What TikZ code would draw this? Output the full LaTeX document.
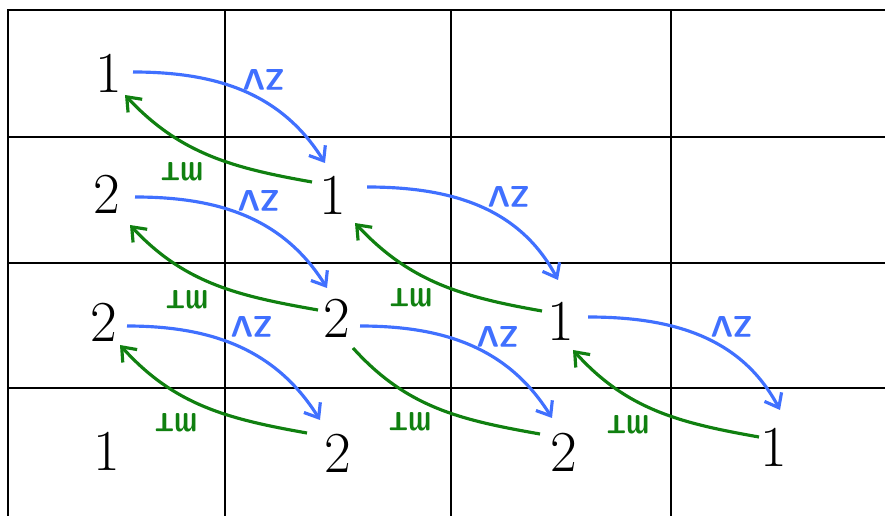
\documentclass[tikz,border=0pt]{standalone}
\definecolor{arcblue}{RGB}{64, 112, 255}
\definecolor{arcgreen}{RGB}{16, 128, 16}
\usepackage{graphicx}
\usepackage{tikz}
\usetikzlibrary{arrows.meta}

\begin{document}
\begin{tikzpicture}[x=0.02cm, y=0.02cm,
  num/.style={font=\fontsize{33}{33}\selectfont, inner sep=0pt},
  grid/.style={line width=1.3pt, black},
  zvarc/.style={draw=arcblue, line width=1.8pt, -{Straight Barb[length=7pt, width=11pt]}},
  mtarc/.style={draw=arcgreen, line width=1.8pt, -{Straight Barb[length=7pt, width=11pt]}},
  zvlab/.style={text=arcblue, font=\sffamily\bfseries\fontsize{17}{17}\selectfont, rotate=180, inner sep=0pt},
  mtlab/.style={text=arcgreen, font=\sffamily\bfseries\fontsize{15}{15}\selectfont, rotate=180, inner sep=0pt}
]
  \useasboundingbox (0, 0) rectangle (885, -516);

  % grid
  \foreach \y in {10, 137, 263, 388}
    \draw[grid] (7, -\y) -- (885, -\y);
  \foreach \x in {8, 225, 451, 671}
    \draw[grid] (\x, -10) -- (\x, -516);

  % numbers
  \node[num] (n00) at (109, -73) {1};
  \node[num] (n10) at (107, -194) {2};
  \node[num] (n11) at (333, -195) {1};
  \node[num] (n20) at (104, -322) {2};
  \node[num] (n21) at (337, -318) {2};
  \node[num] (n22) at (561, -321) {1};
  \node[num] (n30) at (107, -451) {1};
  \node[num] (n31) at (338, -453) {2};
  \node[num] (n32) at (564, -452) {2};
  \node[num] (n33) at (774, -447) {1};

  % blue arcs
  \draw[zvarc] ([shift={(24,1)}]n00.center) to[out=0, in=122] ([shift={(-8,32)}]n11.center);
  \draw[zvarc] ([shift={(28,-3)}]n10.center) to[out=0, in=122] ([shift={(-10,30)}]n21.center);
  \draw[zvarc] ([shift={(34,8)}]n11.center) to[out=0, in=118] ([shift={(-3,41)}]n22.center);
  \draw[zvarc] ([shift={(23,-4)}]n20.center) to[out=0, in=122] ([shift={(-18,33)}]n31.center);
  \draw[zvarc] ([shift={(23,-8)}]n21.center) to[out=0, in=122] ([shift={(-12,34)}]n32.center);
  \draw[zvarc] ([shift={(27,4)}]n22.center) to[out=0, in=118] ([shift={(6,37)}]n33.center);

  % green arcs
  \draw[mtarc] ([shift={(-21,13)}]n11.center) to[out=170, in=-47] ([shift={(16,-22)}]n00.center);
  \draw[mtarc] ([shift={(-19,8)}]n21.center) to[out=170, in=-47] ([shift={(23,-31)}]n10.center);
  \draw[mtarc] ([shift={(-19,10)}]n22.center) to[out=170, in=-47] ([shift={(22,-28)}]n11.center);
  \draw[mtarc] ([shift={(-31,20)}]n31.center) to[out=170, in=-48] ([shift={(16,-23)}]n20.center);
  \draw[mtarc, -] ([shift={(-24,18)}]n32.center) to[out=170, in=-48] ([shift={(16,-30)}]n21.center);
  \draw[mtarc] ([shift={(-15,10)}]n33.center) to[out=170, in=-48] ([shift={(12,-29)}]n22.center);

  % labels
  \node[zvlab] (zv1) at (264, -80) {ZV};
  \node[zvlab] (zv2) at (259, -201) {ZV};
  \node[zvlab] (zv3) at (509, -197) {ZV};
  \node[zvlab] (zv4) at (252, -327) {ZV};
  \node[zvlab] (zv5) at (498, -337) {ZV};
  \node[zvlab] (zv6) at (732, -327) {ZV};
  \node[mtlab] (mt1) at (182, -172) {\scalebox{1}[1.5]{m}T};
  \node[mtlab] (mt2) at (187, -300) {\scalebox{1}[1.5]{m}T};
  \node[mtlab] (mt3) at (411, -298) {\scalebox{1}[1.5]{m}T};
  \node[mtlab] (mt4) at (176, -423) {\scalebox{1}[1.5]{m}T};
  \node[mtlab] (mt5) at (410, -422) {\scalebox{1}[1.5]{m}T};
  \node[mtlab] (mt6) at (628, -425) {\scalebox{1}[1.5]{m}T};
\end{tikzpicture}
\end{document}
